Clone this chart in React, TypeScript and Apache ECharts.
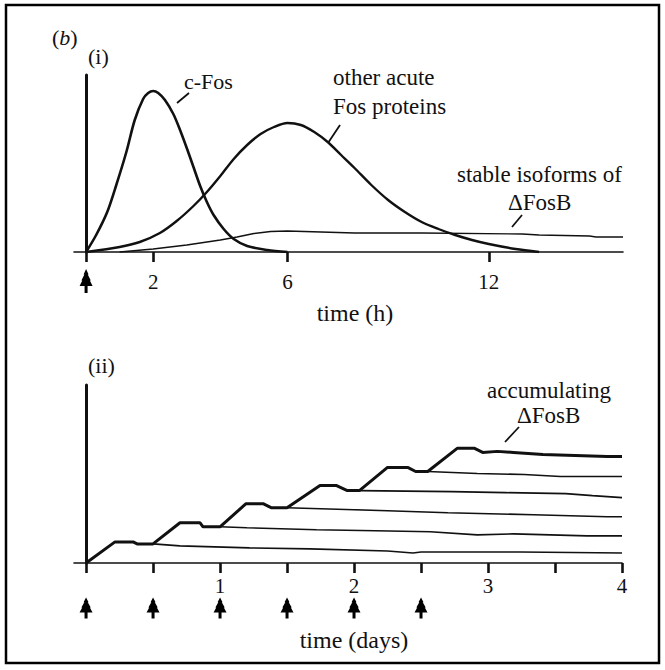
import React, { useEffect, useRef } from "react";
import * as echarts from "echarts";

// ---------- data (panel i: hours, arbitrary units) ----------
const cFos: number[][] = [
  [0, 0], [0.3, 17], [0.63, 40], [0.9, 67], [1.2, 100], [1.45, 132], [1.7, 153], [1.85, 159],
  [2, 161], [2.15, 159], [2.35, 152], [2.6, 138], [2.8, 122], [3.0, 104], [3.2, 85], [3.4, 66],
  [3.6, 50], [3.8, 37], [4.1, 23], [4.4, 13], [4.8, 6], [5.4, 2], [6, 0],
];
const otherAcute: number[][] = [
  [0, 0], [1, 5], [1.6, 10], [2.2, 19], [2.7, 31], [3.2, 46], [3.6, 60], [4.0, 76], [4.4, 93],
  [4.8, 107], [5.2, 118], [5.6, 125], [6, 129], [6.4, 127], [6.8, 120], [7.2, 110], [7.6, 97],
  [8, 84], [8.5, 67], [9, 52], [9.5, 40], [10, 30], [10.5, 23], [11, 17], [11.5, 12], [12, 8],
  [12.8, 3], [13.5, 0],
];
const stableFosB: number[][] = [
  [1.0, 0], [2, 3], [3, 7], [4, 12], [4.5, 15], [5, 18.5], [5.5, 20.5], [6, 21], [7, 20],
  [8, 19], [10, 19], [13, 18], [13.5, 17], [15, 16], [15.2, 15], [16, 15],
];
const topTicks = [0, 2, 6, 12];
const topLabels = [2, 6, 12];
const topArrows = [0];

// ---------- data (panel ii: days) ----------
const accumulating: number[][] = [
  [0, 0], [0.216, 21], [0.351, 21], [0.381, 19], [0.5, 19], [0.701, 40], [0.851, 40], [0.873, 36],
  [1.0, 36], [1.194, 59], [1.321, 59], [1.381, 55], [1.5, 55], [1.746, 77], [1.87, 77], [1.95, 72],
  [2.04, 72], [2.25, 95], [2.4, 95], [2.46, 91], [2.55, 91], [2.77, 114], [2.9, 114], [2.96, 110],
  [3.07, 111], [3.19, 110], [3.41, 108], [3.65, 107], [3.89, 106], [4, 106],
];
const decay1: number[][] = [
  [0.5, 19], [0.7, 17], [1.22, 15], [1.67, 14], [2.25, 12], [2.44, 10], [2.5, 11], [3.24, 11], [4, 10],
];
const decay2: number[][] = [
  [1.0, 36], [1.2, 35], [1.72, 33], [2.16, 32], [2.57, 31], [2.92, 28], [3.19, 29], [3.74, 27], [4, 27],
];
const decay3: number[][] = [
  [1.5, 55], [1.75, 54], [2.25, 52], [2.7, 50], [3.34, 48], [3.89, 46], [4, 46],
];
const decay4: number[][] = [
  [2.04, 72], [2.73, 71], [3.13, 70], [3.58, 69], [3.78, 67], [4, 65],
];
const decay5: number[][] = [
  [2.55, 91], [2.92, 89], [3.27, 88], [3.54, 86], [4, 86],
];
const bottomTicks = [0, 0.5, 1, 1.5, 2, 2.5, 3, 3.5, 4];
const bottomLabels = [1, 2, 3, 4];
const bottomArrows = [0, 0.5, 1, 1.5, 2, 2.5];

const INK = "#111";
const SERIF = "Liberation Serif";
const ARROW =
  "path://M6.5,0 L9,5.5 L8.2,5.5 L11.2,11.5 L10.3,11.5 L13,17 L8,17 L8,24 L5,24 L5,17 L0,17 L2.7,11.5 L1.8,11.5 L4.8,5.5 L4,5.5 Z";

function xAxisCfg(gridIndex: number, min: number, max: number, ticks: number[], labels: number[], margin: number) {
  return {
    type: "value",
    gridIndex,
    min,
    max,
    axisLine: { show: true, onZero: true, lineStyle: { color: INK, width: 1.6 } },
    axisTick: { show: true, customValues: ticks, length: 10, lineStyle: { color: INK, width: 2.6 } },
    axisLabel: {
      show: true,
      customValues: labels,
      margin,
      color: INK,
      fontFamily: SERIF,
      fontSize: 21,
      formatter: (v: number) => String(v),
    },
    splitLine: { show: false },
  };
}

function yAxisCfg(gridIndex: number) {
  return {
    type: "value",
    gridIndex,
    min: 0,
    max: 177,
    axisLine: { show: true, onZero: true, lineStyle: { color: INK, width: 3 } },
    axisTick: { show: false },
    axisLabel: { show: false },
    splitLine: { show: false },
  };
}

function lineSeries(data: number[][], idx: number, width: number, smooth: number | boolean = false) {
  return {
    type: "line",
    xAxisIndex: idx,
    yAxisIndex: idx,
    data,
    smooth,
    symbol: "none",
    showSymbol: false,
    silent: true,
    lineStyle: { color: INK, width },
  };
}

function arrowSeries(xs: number[], idx: number, offset: number, h: number) {
  return {
    type: "scatter",
    xAxisIndex: idx,
    yAxisIndex: idx,
    data: xs.map((x) => [x, 0]),
    symbol: ARROW,
    symbolSize: [13, h],
    symbolOffset: [0, offset],
    clip: false,
    silent: true,
    itemStyle: { color: "#000", opacity: 1 },
  };
}

function txt(text: string, x: number, y: number, align: string = "left", size = 23) {
  return {
    type: "text",
    x,
    y,
    silent: true,
    style: {
      text,
      fill: INK,
      fontFamily: SERIF,
      fontSize: size,
      align,
      verticalAlign: "middle",
    },
  };
}

function leader(x1: number, y1: number, x2: number, y2: number) {
  return {
    type: "line",
    silent: true,
    shape: { x1, y1, x2, y2 },
    style: { stroke: INK, lineWidth: 1.8 },
  };
}

export default function App() {
  const ref = useRef<HTMLDivElement>(null);
  useEffect(() => {
    if (!ref.current) return;
    const chart = echarts.init(ref.current, null, { renderer: "svg" });
    chart.setOption({
      animation: false,
      backgroundColor: "#fff",
      grid: [
        { left: 74, top: 75, width: 549, height: 177 },
        { left: 74, top: 385, width: 548, height: 178 },
      ],
      xAxis: [
        xAxisCfg(0, -0.36, 16, topTicks, topLabels, 19),
        xAxisCfg(1, -0.09, 4, bottomTicks, bottomLabels, 12),
      ],
      yAxis: [yAxisCfg(0), yAxisCfg(1)],
      series: [
        lineSeries(cFos, 0, 2.6, 0.3),
        lineSeries(otherAcute, 0, 2.4, 0.3),
        lineSeries(stableFosB, 0, 1.4),
        arrowSeries(topArrows, 0, 29, 24),
        lineSeries(decay1, 1, 1.6),
        lineSeries(decay2, 1, 1.6),
        lineSeries(decay3, 1, 1.6),
        lineSeries(decay4, 1, 1.6),
        lineSeries(decay5, 1, 1.6),
        lineSeries(accumulating, 1, 3),
        arrowSeries(bottomArrows, 1, 45, 21),
      ],
      graphic: [
        {
          type: "rect",
          silent: true,
          shape: { x: 6, y: 5, width: 653, height: 658 },
          style: { fill: "none", stroke: "#000", lineWidth: 2.5 },
        },
        {
          type: "text",
          x: 52,
          y: 37,
          silent: true,
          style: {
            text: "({i|b})",
            fill: INK,
            fontFamily: SERIF,
            fontSize: 22,
            verticalAlign: "middle",
            rich: { i: { fontStyle: "italic", fontFamily: SERIF, fontSize: 22, fill: INK } },
          },
        },
        txt("(i)", 88, 56, "left", 22),
        txt("c-Fos", 184, 81, "left", 22),
        leader(177, 103, 189, 93),
        txt("other acute", 333, 77),
        txt("Fos proteins", 333, 106),
        leader(328, 143, 340, 125),
        txt("stable isoforms of", 457, 174),
        txt("\u0394FosB", 508, 202),
        leader(512, 227, 522, 215),
        txt("time (h)", 355, 313, "center", 24),
        txt("(ii)", 88, 365, "left", 22),
        txt("accumulating", 487, 390),
        txt("\u0394FosB", 517, 415),
        leader(505, 442, 519, 427),
        txt("time (days)", 354, 640, "center", 24),
      ],
    });
    return () => chart.dispose();
  }, []);
  return (
    <div
      ref={ref}
      style={{ position: "absolute", left: 0, top: 0, width: 665, height: 670, background: "#fff" }}
    />
  );
}
